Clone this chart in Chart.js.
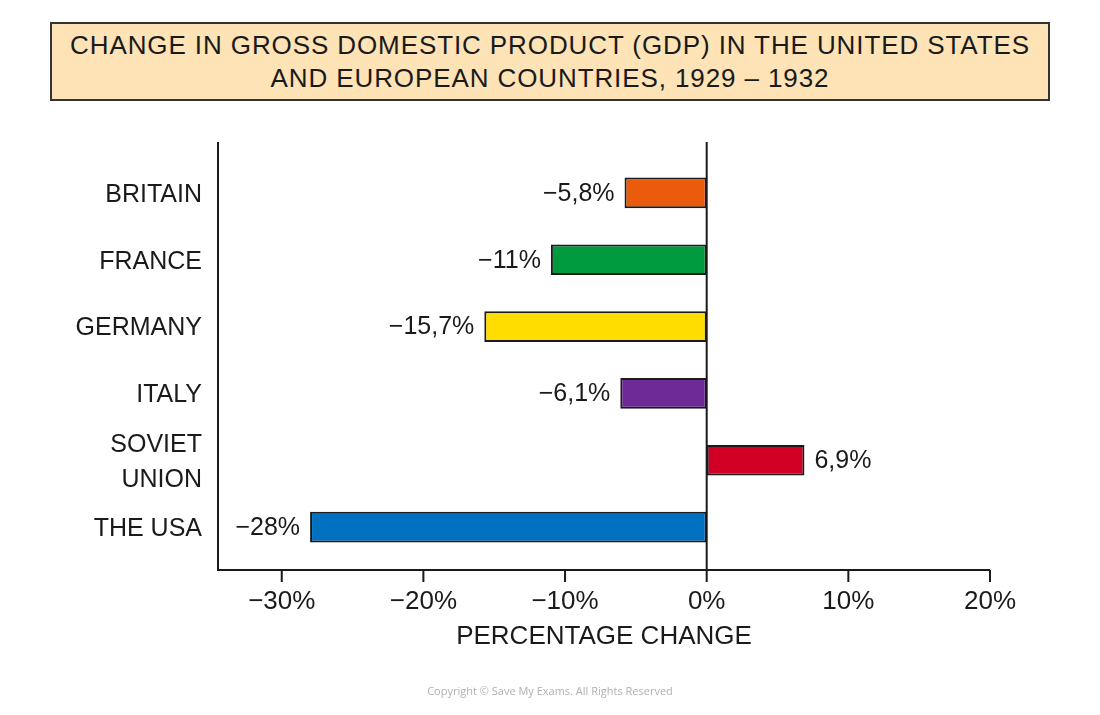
<!DOCTYPE html>
<html>
<head>
<meta charset="utf-8">
<script src="https://cdn.jsdelivr.net/npm/chart.js@4.4.1/dist/chart.umd.min.js"></script>
<style>
  html, body { margin: 0; padding: 0; background: #fff; }
  #wrap { position: relative; width: 1100px; height: 715px; overflow: hidden; }
  #gdp-chart { position: absolute; left: 0; top: 0; }
  #title-box {
    position: absolute; left: 50px; top: 22px; width: 996px; height: 75px;
    background: #fde3b6; border: 2px solid #333;
    display: flex; flex-direction: column; justify-content: center; align-items: center;
    font-family: "Liberation Sans", Arial, sans-serif; font-size: 26px; line-height: 33px;
    color: #1a1a1a; letter-spacing: 0.9px;
  }
  #copyright {
    position: absolute; left: 0; width: 1100px; top: 683px; text-align: center;
    font-family: "Open Sans", sans-serif; font-size: 11px; color: #b0b0b0;
  }
</style>
</head>
<body>
<div id="wrap">
  <canvas id="gdp-chart" width="1100" height="715"></canvas>
  <div id="title-box">
    <div>CHANGE IN GROSS DOMESTIC PRODUCT (GDP) IN THE UNITED STATES</div>
    <div>AND EUROPEAN COUNTRIES, 1929 – 1932</div>
  </div>
  <div id="copyright">Copyright © Save My Exams. All Rights Reserved</div>
</div>
<script>
// dados do grafico
const countries = ['BRITAIN', 'FRANCE', 'GERMANY', 'ITALY', ['SOVIET', 'UNION'], 'THE USA'];
const gdpChange = [-5.8, -11, -15.7, -6.1, 6.9, -28];
const barColors = ['#ea5b0c', '#009a3e', '#ffdd00', '#6e2a96', '#d20024', '#0070c0'];
const xTicks = [-30, -20, -10, 0, 10, 20];

const INK = '#1a1a1a';
const FONT = '"Liberation Sans", Arial, sans-serif';

const fmtPct = v => (v < 0 ? '\u2212' : '') + String(Math.abs(v)).replace('.', ',') + '%';

// linhas dos eixos (prolongadas como no original)
const axisLines = {
  id: 'axisLines',
  beforeDatasetsDraw(chart) {
    const { ctx, chartArea } = chart;
    const xs = chart.scales.x;
    const top = chartArea.top - 17.5;
    const base = chartArea.bottom + 9.5;
    const zero = xs.getPixelForValue(0);
    ctx.save();
    ctx.strokeStyle = INK;
    ctx.lineWidth = 2;
    ctx.beginPath();
    ctx.moveTo(chartArea.left, top);
    ctx.lineTo(chartArea.left, base);
    ctx.lineTo(chartArea.right, base);
    ctx.moveTo(zero, top);
    ctx.lineTo(zero, base);
    xs.ticks.forEach(t => {
      const px = xs.getPixelForValue(t.value);
      ctx.moveTo(px, base);
      ctx.lineTo(px, base + 12);
    });
    ctx.stroke();
    ctx.restore();
  }
};

// rotulos com o valor ao lado de cada barra
const valueLabels = {
  id: 'valueLabels',
  afterDatasetsDraw(chart) {
    const { ctx } = chart;
    const meta = chart.getDatasetMeta(0);
    ctx.save();
    ctx.font = '25px ' + FONT;
    ctx.fillStyle = INK;
    ctx.textBaseline = 'middle';
    meta.data.forEach((bar, i) => {
      const v = gdpChange[i];
      if (v < 0) {
        ctx.textAlign = 'right';
        ctx.fillText(fmtPct(v), bar.x - 10, bar.y + 1);
      } else {
        ctx.textAlign = 'left';
        ctx.fillText(fmtPct(v), bar.x + 10, bar.y + 1);
      }
    });
    ctx.restore();
  }
};

new Chart(document.getElementById('gdp-chart'), {
  type: 'bar',
  data: {
    labels: countries,
    datasets: [{
      data: gdpChange,
      backgroundColor: barColors,
      borderColor: INK,
      borderWidth: 2,
      borderSkipped: false,
      categoryPercentage: 1,
      barPercentage: 0.46
    }]
  },
  options: {
    indexAxis: 'y',
    responsive: false,
    animation: false,
    layout: { padding: { top: 159.5, right: 110, left: 0, bottom: 0 } },
    plugins: {
      legend: { display: false },
      tooltip: { enabled: false }
    },
    scales: {
      x: {
        min: -34.5,
        max: 20,
        afterBuildTicks: s => { s.ticks = xTicks.map(v => ({ value: v })); },
        afterFit: s => { s.height = 154.5; },
        grid: { display: false, drawTicks: false },
        border: { display: false },
        ticks: {
          padding: 26,
          color: INK,
          font: { family: FONT, size: 26 },
          callback: v => fmtPct(v)
        },
        title: {
          display: true,
          text: 'PERCENTAGE CHANGE',
          color: INK,
          font: { family: FONT, size: 26 },
          padding: { top: 0, bottom: 63 }
        }
      },
      y: {
        afterFit: s => { s.width = 218; },
        grid: { display: false, drawTicks: false },
        border: { display: false },
        ticks: {
          autoSkip: false,
          padding: 16,
          labelOffset: 2,
          color: INK,
          font: { family: FONT, size: 25, lineHeight: 1.4 }
        }
      }
    }
  },
  plugins: [axisLines, valueLabels]
});
</script>
</body>
</html>
